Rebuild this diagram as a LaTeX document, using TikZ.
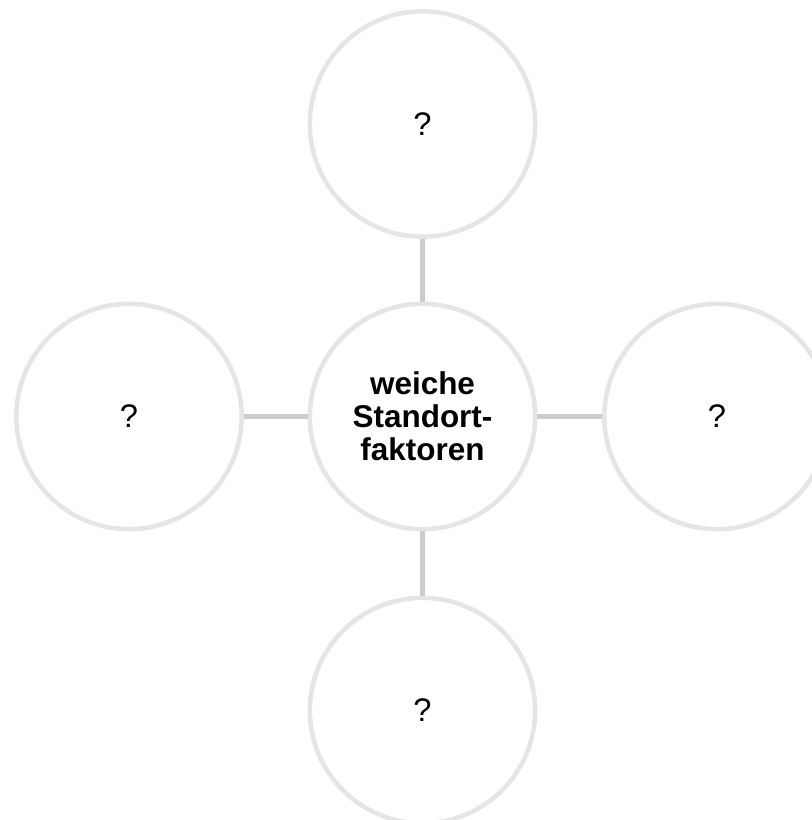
\documentclass[tikz,border=0pt]{standalone}
\usepackage{fontspec}
\setmainfont{Liberation Sans}
\usepackage{tikz}
\usepackage{xcolor}

\definecolor{ringgrey}{HTML}{E5E5E5}
\definecolor{stemgrey}{HTML}{CCCCCC}

\tikzset{
  factor/.style={circle, draw=ringgrey, line width=3.4pt, minimum size=169pt, inner sep=0pt,
    font=\fontsize{24.5}{28}\selectfont},
  hub/.style={factor, align=center, font=\bfseries\fontsize{23.6}{24.75}\selectfont},
  stem/.style={draw=stemgrey, line width=3.5pt}
}

\begin{document}
\begin{tikzpicture}[x=0.75pt, y=-0.75pt]
\useasboundingbox (0,0) rectangle (812,820);
\coordinate (hub centre) at (422.5,416.5);

\node[hub] (soft factors) at (hub centre) {weiche\\Standort-\\faktoren};
\node[factor] (factor top) at (422.5,124) {?};
\node[factor] (factor bottom) at (422.5,710.5) {?};
\node[factor] (factor left) at (129,416.5) {?};
\node[factor] (factor right) at (717,416.5) {?};

\draw[stem] (soft factors) -- (factor top);
\draw[stem] (soft factors) -- (factor bottom);
\draw[stem] (soft factors) -- (factor left);
\draw[stem] (soft factors) -- (factor right);
\end{tikzpicture}
\end{document}
